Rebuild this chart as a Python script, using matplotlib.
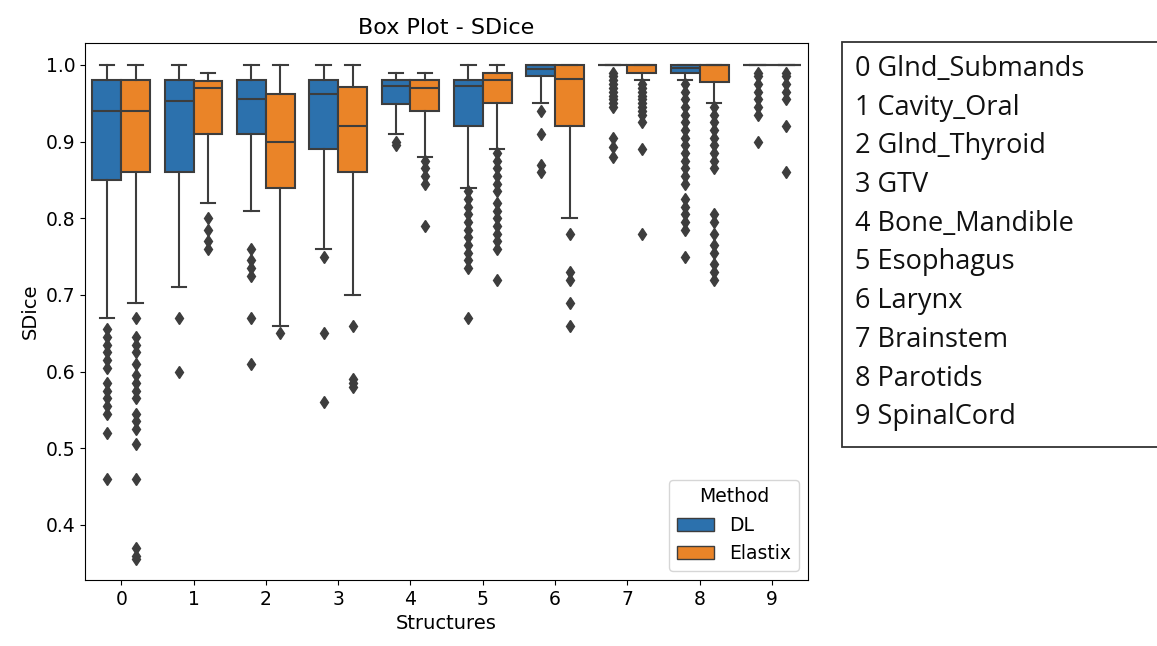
import matplotlib
matplotlib.use('Agg')
import matplotlib.pyplot as plt
from matplotlib.patches import Patch, Rectangle

structures = [0, 1, 2, 3, 4, 5, 6, 7, 8, 9]
structure_names = ['Glnd_Submands', 'Cavity_Oral', 'Glnd_Thyroid', 'GTV', 'Bone_Mandible',
	'Esophagus', 'Larynx', 'Brainstem', 'Parotids', 'SpinalCord']
methods = ['DL', 'Elastix']

# box stats
dl_whislo = [0.67, 0.71, 0.81, 0.76, 0.91, 0.84, 0.95, 1.0, 0.98, 1.0]
dl_q1 = [0.85, 0.86, 0.91, 0.89, 0.949, 0.92, 0.985, 1.0, 0.989, 1.0]
dl_med = [0.94, 0.953, 0.955, 0.962, 0.972, 0.972, 0.994, 1.0, 0.996, 1.0]
dl_q3 = [0.98, 0.98, 0.98, 0.98, 0.98, 0.98, 1.0, 1.0, 1.0, 1.0]
dl_whishi = [1.0, 1.0, 1.0, 1.0, 0.99, 1.0, 1.0, 1.0, 1.0, 1.0]
dl_fliers = [
	[0.655, 0.645, 0.635, 0.625, 0.615, 0.605, 0.585, 0.575, 0.565, 0.555, 0.545, 0.52, 0.46],
	[0.67, 0.60],
	[0.76, 0.745, 0.735, 0.725, 0.67, 0.61],
	[0.75, 0.65, 0.56],
	[0.90, 0.895],
	[0.835, 0.825, 0.815, 0.805, 0.795, 0.785, 0.775, 0.765, 0.755, 0.745, 0.735, 0.67],
	[0.94, 0.91, 0.87, 0.86],
	[0.99, 0.985, 0.98, 0.975, 0.97, 0.965, 0.96, 0.955, 0.95, 0.945, 0.905, 0.893, 0.88],
	[0.975, 0.965, 0.955, 0.945, 0.935, 0.925, 0.915, 0.905, 0.895, 0.885, 0.875, 0.865, 0.855, 0.845,
		0.825, 0.815, 0.805, 0.795, 0.785, 0.75],
	[0.99, 0.985, 0.975, 0.965, 0.955, 0.945, 0.935, 0.90],
]

el_whislo = [0.69, 0.82, 0.66, 0.70, 0.88, 0.89, 0.80, 0.98, 0.95, 1.0]
el_q1 = [0.86, 0.91, 0.84, 0.86, 0.94, 0.95, 0.92, 0.989, 0.978, 1.0]
el_med = [0.94, 0.97, 0.90, 0.92, 0.97, 0.98, 0.981, 1.0, 1.0, 1.0]
el_q3 = [0.98, 0.979, 0.962, 0.971, 0.98, 0.99, 1.0, 1.0, 1.0, 1.0]
el_whishi = [1.0, 0.99, 1.0, 1.0, 0.99, 1.0, 1.0, 1.0, 1.0, 1.0]
el_fliers = [
	[0.67, 0.645, 0.635, 0.625, 0.61, 0.595, 0.585, 0.575, 0.565, 0.545, 0.535, 0.525, 0.505, 0.46,
		0.37, 0.36, 0.355],
	[0.80, 0.785, 0.77, 0.76],
	[0.65],
	[0.66, 0.59, 0.585, 0.58],
	[0.875, 0.865, 0.855, 0.845, 0.79],
	[0.885, 0.875, 0.865, 0.855, 0.845, 0.835, 0.82, 0.81, 0.80, 0.79, 0.78, 0.77, 0.76, 0.72],
	[0.78, 0.73, 0.72, 0.69, 0.66],
	[0.975, 0.97, 0.965, 0.96, 0.955, 0.95, 0.945, 0.94, 0.935, 0.925, 0.89, 0.78],
	[0.945, 0.935, 0.925, 0.915, 0.905, 0.895, 0.885, 0.875, 0.865,
		0.805, 0.795, 0.78, 0.765, 0.755, 0.74, 0.73, 0.72],
	[0.99, 0.985, 0.975, 0.965, 0.955, 0.92, 0.86],
]

colors = ['#2c71ad', '#ea8428']
gray = '#3d3d3d'


def make_stats(lo, q1, med, q3, hi, fliers):
	stats = []
	for i in range(len(lo)):
		stats.append({'whislo': lo[i], 'q1': q1[i], 'med': med[i], 'q3': q3[i],
			'whishi': hi[i], 'fliers': fliers[i]})
	return stats


def plot_sdice():
	fig = plt.figure(figsize=(11.57, 6.46), dpi=100)
	ax = fig.add_axes([0.0735, 0.102, 0.625, 0.832])

	groups = [make_stats(dl_whislo, dl_q1, dl_med, dl_q3, dl_whishi, dl_fliers),
		make_stats(el_whislo, el_q1, el_med, el_q3, el_whishi, el_fliers)]
	offsets = [-0.2, 0.2]

	for k in range(2):
		pos = [s + offsets[k] for s in structures]
		ax.bxp(groups[k], positions=pos, widths=0.4, patch_artist=True, manage_ticks=False,
			boxprops=dict(facecolor=colors[k], edgecolor=gray, linewidth=1.5),
			medianprops=dict(color=gray, linewidth=1.5),
			whiskerprops=dict(color=gray, linewidth=1.5),
			capprops=dict(color=gray, linewidth=1.5),
			flierprops=dict(marker='d', markerfacecolor=gray, markeredgecolor=gray, markersize=6))

	ax.set_xlim(-0.5, 9.5)
	ax.set_ylim(0.328, 1.029)
	ax.set_xticks(structures)
	ax.set_xticklabels([str(s) for s in structures])
	ax.tick_params(labelsize=13.5)

	ax.set_title('Box Plot - SDice', fontsize=16)
	ax.set_xlabel('Structures', fontsize=14)
	ax.set_ylabel('SDice', fontsize=14)

	handles = [Patch(facecolor=colors[k], edgecolor=gray, label=methods[k]) for k in range(2)]
	ax.legend(handles=handles, title='Method', loc='lower right', fontsize=13.5, title_fontsize=13.5)

	# structure index box on the right
	fig.patches.append(Rectangle((842 / 1157, 1 - 447 / 646), 0.3, (447 - 42) / 646,
		transform=fig.transFigure, facecolor='white', edgecolor='#333333', linewidth=1.3))
	for i, name in enumerate(structure_names):
		y = 69 + i * 38.7
		fig.text(855 / 1157, 1 - y / 646, '%d %s' % (structures[i], name), fontsize=19.5,
			family='Open Sans', va='center', ha='left', color='#111111')

	plt.savefig('out.png', dpi=100)


if __name__ == '__main__':
	plot_sdice()
